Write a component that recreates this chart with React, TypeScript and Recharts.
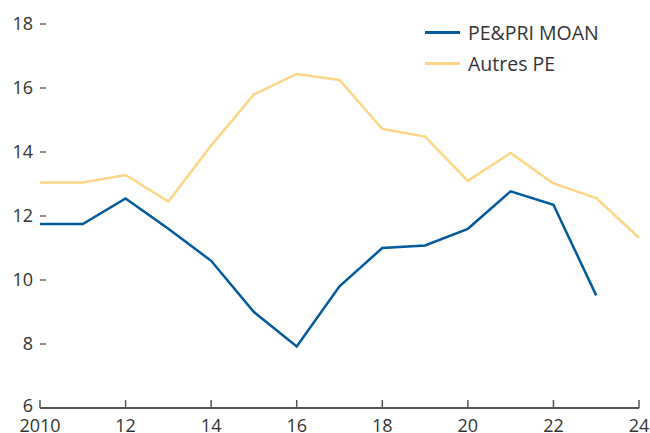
import { LineChart, Line, XAxis, YAxis } from 'recharts';

const years = [2010, 2011, 2012, 2013, 2014, 2015, 2016, 2017, 2018, 2019, 2020, 2021, 2022, 2023, 2024];
const moan = [11.75, 11.75, 12.55, 11.6, 10.6, 9.0, 7.92, 9.8, 11.0, 11.08, 11.6, 12.77, 12.35, 9.52, null];
const autres = [13.05, 13.05, 13.28, 12.45, 14.2, 15.8, 16.44, 16.25, 14.72, 14.48, 13.1, 13.97, 13.02, 12.56, 11.32];
const xTicks = [2010, 2012, 2014, 2016, 2018, 2020, 2022, 2024];
const yTicks = [6, 8, 10, 12, 14, 16, 18];

const data = years.map((y, i) => ({ year: y, moan: moan[i], autres: autres[i] }));

const BLUE = '#005a9c';
const YELLOW = '#fdd585';
const TEXT = '#333333';
const FONT = '"Open Sans", "Noto Sans", sans-serif';

const LeftTick = ({ x, y, payload }: any) => (
  <g>
    <text x={x - 7} y={y} dy={payload.value === 6 ? 4 : 6} textAnchor="end" fontSize={18} fill={TEXT} fontFamily={FONT}>
      {payload.value}
    </text>
    {payload.value !== 6 && <line x1={x} x2={x + 6} y1={y} y2={y} stroke="#666" strokeWidth={1.5} />}
  </g>
);

const RightTick = ({ x, y, payload }: any) =>
  payload.value === 6 ? null : <line x1={x - 6} x2={x} y1={y} y2={y} stroke="#666" strokeWidth={1.5} />;

const BottomTick = ({ x, y, payload }: any) => (
  <g>
    <line x1={x} x2={x} y1={y - 8} y2={y} stroke="#555" strokeWidth={1.5} />
    <text x={x} y={y + 24} textAnchor="middle" fontSize={18} fill={TEXT} fontFamily={FONT}>
      {payload.value === 2010 ? '2010' : String(payload.value).slice(2)}
    </text>
  </g>
);

const legendItems = [
  { name: 'PE&PRI MOAN', color: BLUE },
  { name: 'Autres PE', color: YELLOW },
];

export default function App() {
  return (
    <div style={{ position: 'absolute', left: 0, top: 0, width: 650, height: 433, background: '#fff' }}>
      <LineChart
        width={650}
        height={433}
        data={data}
        margin={{ top: 24, right: 11, bottom: 0, left: 0 }}
        style={{ overflow: 'visible' }}
      >
        <XAxis
          dataKey="year"
          type="number"
          domain={[2010, 2024]}
          ticks={xTicks}
          tickSize={0}
          tickMargin={0}
          tick={<BottomTick />}
          height={25}
          stroke="#555"
          strokeWidth={2}
          interval={0}
        />
        <YAxis
          yAxisId="left"
          domain={[6, 18]}
          ticks={yTicks}
          width={40}
          axisLine={false}
          tickLine={false}
          tickSize={0}
          tickMargin={0}
          tick={<LeftTick />}
          interval={0}
        />
        <YAxis
          yAxisId="right"
          orientation="right"
          domain={[6, 18]}
          ticks={yTicks}
          width={0}
          axisLine={false}
          tickLine={false}
          tickSize={0}
          tickMargin={0}
          tick={<RightTick />}
          interval={0}
        />
        <Line yAxisId="left" dataKey="autres" stroke={YELLOW} strokeWidth={2.5} dot={false} isAnimationActive={false} />
        <Line yAxisId="left" dataKey="moan" stroke={BLUE} strokeWidth={2.5} dot={false} isAnimationActive={false} />
      </LineChart>
      <div style={{ position: 'absolute', left: 425, top: 17, fontFamily: FONT, fontSize: 19.5, color: TEXT }}>
        {legendItems.map((it) => (
          <div key={it.name} style={{ display: 'flex', alignItems: 'center', height: 31 }}>
            <span style={{ display: 'inline-block', width: 35, height: 3, background: it.color, marginRight: 8 }} />
            {it.name}
          </div>
        ))}
      </div>
    </div>
  );
}
